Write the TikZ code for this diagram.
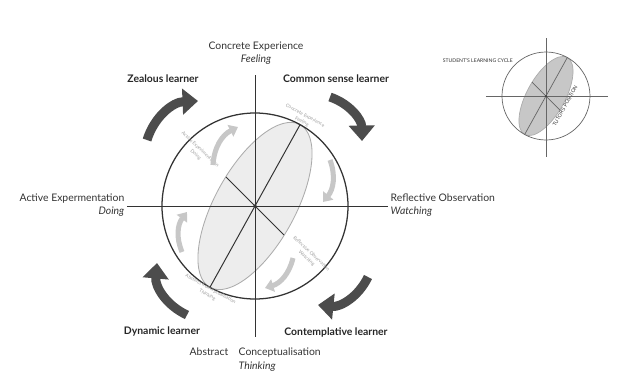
\documentclass[tikz,border=0pt]{standalone}
\usepackage{fontspec}
\setmainfont{Lato}
\usetikzlibrary{arrows.meta}
\definecolor{inkgray}{gray}{0.2}
\definecolor{arrowgray}{gray}{0.3}
\definecolor{paleline}{gray}{0.67}
\definecolor{palefill}{gray}{0.93}
\definecolor{insetfill}{gray}{0.78}
\definecolor{palearrow}{gray}{0.78}
\definecolor{palelabel}{gray}{0.62}
\tikzset{
	axis/.style={draw=inkgray,line width=0.7pt},
	ring/.style={draw=inkgray,line width=0.9pt},
	thinaxis/.style={draw=black!60,line width=0.5pt},
	stage/.style={font=\fontsize{7.4}{8.8}\selectfont,text=inkgray,inner sep=1pt},
	learner/.style={font=\fontsize{7.4}{9}\selectfont\bfseries,text=black!85,inner sep=1pt},
	faint/.style={font=\fontsize{3.4}{4.8}\selectfont,text=palelabel,align=center,inner sep=0pt},
	tinycaps/.style={font=\fontsize{3.6}{4}\selectfont,text=inkgray,inner sep=0pt},
	bigarrow/.style={draw=arrowgray,line width=6.4pt,-{Triangle[width=18pt,length=11pt]}},
	smallarrow/.style={draw=palearrow,line width=3.6pt,-{Triangle[width=9pt,length=6pt]}}
}
\begin{document}
\begin{tikzpicture}[x=0.025cm,y=0.025cm]
	\useasboundingbox (-255,-184) rectangle (366,206);

	% main cycle
	\draw[fill=palefill,draw=paleline,line width=0.6pt,rotate=61] (0,0) ellipse (93 and 40);
	\draw[axis] (0,131) -- (0,-131);
	\draw[axis] (-128,0) -- (133,0);
	\draw[ring] (0,0) circle (93);
	\draw[axis] (61:93) -- (241:93);
	\draw[axis] (135:41) -- (-45:41);
	\fill[inkgray] (0,0) circle (1.8);

	\node[stage,align=center] (ce) at (1,153) {Concrete Experience\\\textit{Feeling}};
	\node[stage,align=left,anchor=west] (ro) at (134,1) {Reflective Observation\\\textit{Watching}};
	\node[stage,align=right,anchor=east] (ae) at (-129,1) {Active Expermentation\\\textit{Doing}};
	\node[stage,anchor=base east] (abs) at (-25,-149) {Abstract};
	\node[stage,anchor=base west] (ac) at (-18,-149) {Conceptualisation};
	\node[stage,anchor=base west] (thk) at (-18,-163) {\textit{Thinking}};

	\node[learner] (zeal) at (-92,127) {Zealous learner};
	\node[learner] (common) at (81,127) {Common sense learner};
	\node[learner] (dyn) at (-93,-126) {Dynamic learner};
	\node[learner] (cont) at (81,-126) {Contemplative learner};

	\node[faint,rotate=-29] (fce) at (61:100) {Concrete Experience\\Feeling};
	\node[faint,rotate=-43] (fae) at (-57,54) {Active Experimentation\\Doing};
	\node[faint,rotate=-43] (fro) at (54,-50) {Reflective Observation\\Watching};
	\node[faint,rotate=-29] (fac) at (-46,-86) {Abstract Conceptualisation\\Thinking};

	% outer arrows
	\draw[bigarrow] (-108,66) to[bend left=35] (-57,105);
	\draw[bigarrow] (75,109) to[bend left=35] (107,65);
	\draw[bigarrow] (113,-71) to[bend left=35] (63,-99);
	\draw[bigarrow] (-68,-109) to[bend left=35] (-98,-57);

	% inner arrows
	\draw[smallarrow] (-42,41) to[bend left=30] (-17,79);
	\draw[smallarrow] (75,46) to[bend left=30] (68,4);
	\draw[smallarrow] (38,-52) to[bend left=30] (10,-82);
	\draw[smallarrow] (-73,-46) to[bend left=30] (-68,-6);

	% inset
	\begin{scope}[shift={(291,110)}]
		\draw[fill=insetfill,draw=paleline,line width=0.5pt,rotate=61] (0,0) ellipse (44 and 19);
		\draw[thinaxis] (0,58) -- (0,-61);
		\draw[thinaxis] (-60,0) -- (62,0);
		\draw[thinaxis] (0,0) circle (44);
		\draw[thinaxis] (61:44) -- (241:44);
		\draw[thinaxis] (135:19.5) -- (-45:19.5);
		\fill[inkgray] (0,0) circle (1);
		\node[tinycaps,anchor=east] (slc) at (-33,35) {STUDENT'S LEARNING CYCLE};
		\node[tinycaps,rotate=61] (tp) at (19,-10) {TUTOR'S POSITION};
	\end{scope}
\end{tikzpicture}
\end{document}
